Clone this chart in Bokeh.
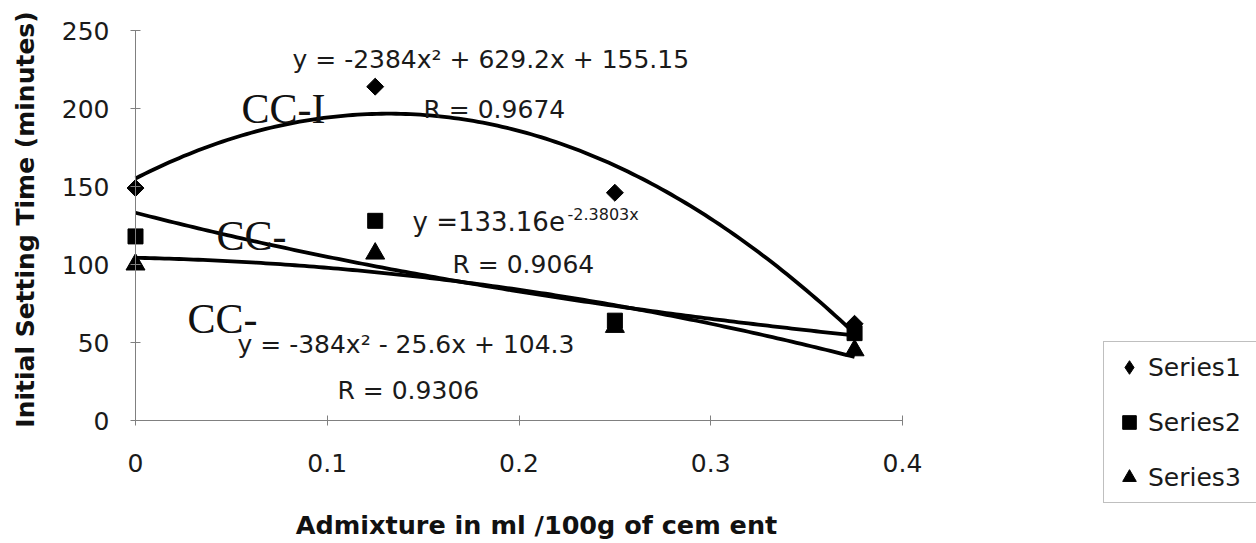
import numpy as np
from bokeh.plotting import figure
from bokeh.models import Range1d, FixedTicker, Legend, LegendItem, Label
from bokeh.embed import file_html
from bokeh.resources import INLINE

# ---------------- data ----------------
admixture = [0.0, 0.125, 0.25, 0.375]
series1 = [149, 214, 146, 62]
series2 = [118, 128, 64, 56]
series3 = [100, 107, 60, 45]
series_names = ["Series1", "Series2", "Series3"]

# trendline coefficients as printed on the chart
poly1 = [-2384, 629.2, 155.15]   # Series1: quadratic
exp2 = [133.16, -2.3803]         # Series2: exponential a*e^(b x)
poly3 = [-384, -25.6, 104.3]     # Series3: quadratic

x_ticks = [0, 0.1, 0.2, 0.3, 0.4]
x_tick_labels = ["0", "0.1", "0.2", "0.3", "0.4"]
y_ticks = [0, 50, 100, 150, 200, 250]
x_axis_max = 0.4
y_axis_max = 250

# ---------------- layout (pixels) ----------------
W, H = 1256, 543
X0_PX, Y0_PX = 135, 420          # where x=0 / y=0 sit
XMAX_PX, YMAX_PX = 902, 30       # where x=0.4 / y=250 sit
px_x = (XMAX_PX - X0_PX) / x_axis_max
px_y = (Y0_PX - YMAX_PX) / y_axis_max


def dx(px):  # screen x -> data x
    return (px - X0_PX) / px_x


def dy(px):  # screen y -> data y
    return (Y0_PX - px) / px_y


SANS = "DejaVu Sans"
SERIF = "Liberation Serif"
AX = "#808080"
TXT = "#1a1a1a"

p = figure(width=W, height=H, x_range=Range1d(dx(0), dx(W)), y_range=Range1d(dy(H), dy(0)),
           output_backend="svg", toolbar_location=None, min_border=0)
p.outline_line_color = None
p.grid.visible = False
p.background_fill_color = "white"

# axes (drawn at x=0 / y=0, limited to the data extent)
p.xaxis.ticker = FixedTicker(ticks=x_ticks)
p.xaxis.major_label_overrides = {t: l for t, l in zip(x_ticks, x_tick_labels)}
p.xaxis.fixed_location = 0
p.xaxis.bounds = (0, x_axis_max)
p.yaxis.ticker = FixedTicker(ticks=y_ticks)
p.yaxis.fixed_location = 0
p.yaxis.bounds = (0, y_axis_max)
for ax in (p.xaxis, p.yaxis):
    ax.axis_line_color = AX
    ax.axis_line_width = 1
    ax.major_tick_line_color = AX
    ax.major_tick_in = 5
    ax.major_tick_out = 5
    ax.minor_tick_line_color = None
    ax.major_label_text_font = SANS
    ax.major_label_text_font_size = "25px"
    ax.major_label_text_color = TXT
p.xaxis.major_label_standoff = 28
p.yaxis.major_label_standoff = 21

# axis titles
p.add_layout(Label(x=dx(536), y=dy(524), text="Admixture in ml /100g of cem ent",
                   text_font=SANS, text_font_style="bold", text_font_size="25.5px",
                   text_color="#111111", text_align="center", text_baseline="middle"))
p.add_layout(Label(x=dx(25), y=dy(219), text="Initial Setting Time (minutes)", angle=np.pi / 2,
                   text_font=SANS, text_font_style="bold", text_font_size="25px",
                   text_color="#111111", text_align="center", text_baseline="middle"))

# trendlines
xs = np.linspace(admixture[0], admixture[-1], 150)
for ys in (np.polyval(poly1, xs), exp2[0] * np.exp(exp2[1] * xs), np.polyval(poly3, xs)):
    p.line(xs, ys, line_color="black", line_width=3.8, line_join="round")

# markers (the small diamond under the rotated square only serves the legend swatch)
r1_key = p.scatter(admixture, series1, marker="diamond", size=10, fill_color="black", line_color="black")
p.scatter(admixture, series1, marker="square", angle=np.pi / 4, size=12, fill_color="black", line_color="black")
r2 = p.scatter(admixture, series2, marker="square", size=15, fill_color="black", line_color="black")
r3 = p.scatter(admixture, series3, marker="triangle", size=19, fill_color="black", line_color="black")


# annotations (positions given as the visual centre line of each text)
def lab(xpx, ypx, text, size=25, font=SANS, color=TXT):
    p.add_layout(Label(x=dx(xpx), y=dy(ypx), text=text, text_font=font, text_font_size=f"{size}px",
                       text_color=color, text_align="left", text_baseline="middle"))


lab(292, 58.5, "y = -2384x\u00b2 + 629.2x + 155.15")
lab(423, 108.5, "R = 0.9674")
lab(412, 221, "y =133.16e", size=26)
lab(567, 214, "-2.3803x", size=16)
lab(452, 263.5, "R = 0.9064")
lab(237, 343.5, "y = -384x\u00b2 - 25.6x + 104.3")
lab(337, 389.5, "R = 0.9306")
lab(241, 108, "CC-I", size=42, font=SERIF, color="#111111")
lab(216, 235, "CC-", size=42, font=SERIF, color="#111111")
lab(187, 318, "CC-", size=42, font=SERIF, color="#111111")

legend = Legend(items=[LegendItem(label=n, renderers=[r]) for n, r in zip(series_names, [r1_key, r2, r3])],
                location=(1103, H - 503), orientation="vertical",
                label_text_font=SANS, label_text_font_size="25px", label_text_color=TXT,
                border_line_color=AX, border_line_width=1, background_fill_color="white",
                background_fill_alpha=1, glyph_width=34, glyph_height=34, label_height=34,
                label_width=100, spacing=21, padding=8, label_standoff=2, margin=0)
p.add_layout(legend)

open("out.html", "w").write(file_html(p, INLINE))
